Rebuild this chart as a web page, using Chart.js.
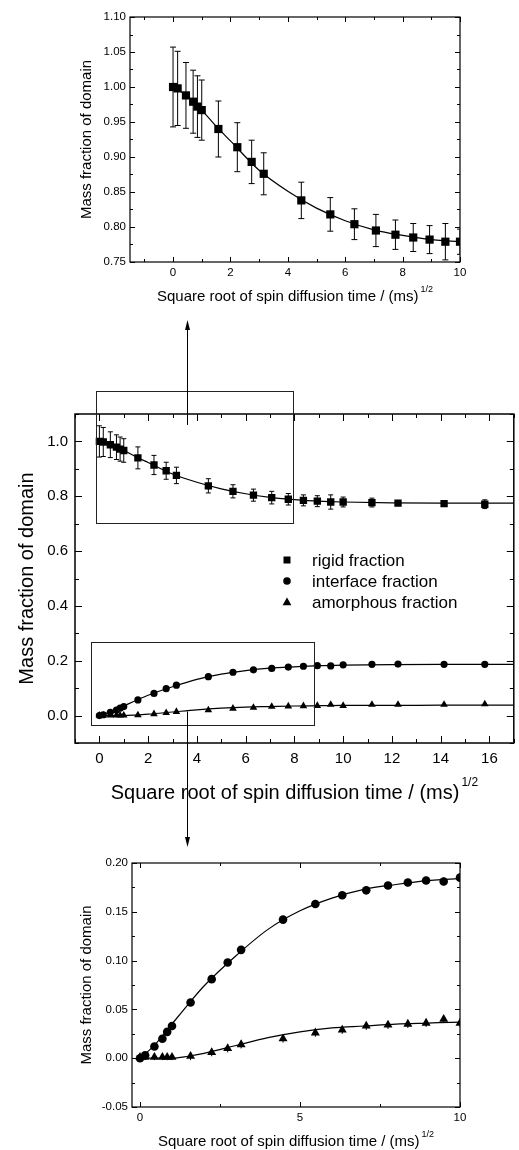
<!DOCTYPE html>
<html>
<head>
<meta charset="utf-8">
<script src="https://cdn.jsdelivr.net/npm/chart.js@4.4.1/dist/chart.umd.min.js"></script>
<style>
  html, body { margin: 0; padding: 0; background: #fff; }
  body { width: 519px; height: 1150px; position: relative; overflow: hidden; }
  canvas { position: absolute; left: 0; }
</style>
</head>
<body>
<canvas id="topChart" width="519" height="320" style="top:0px"></canvas>
<canvas id="midChart" width="519" height="550" style="top:310px"></canvas>
<canvas id="botChart" width="519" height="340" style="top:810px"></canvas>
<script>
const FONT = '"Liberation Sans", Arial, Helvetica, sans-serif';

// square root of spin diffusion time, (ms)^1/2
const sqrtTime = [0, 0.16, 0.45, 0.70, 0.85, 1.00, 1.58, 2.24, 2.74, 3.16, 4.47, 5.48, 6.32, 7.07, 7.75, 8.37, 8.94, 9.49, 10.00, 11.18, 12.25, 14.14, 15.81];

// mass fractions
const rigid         = [1.000, 0.998, 0.988, 0.979, 0.972, 0.967, 0.940, 0.914, 0.893, 0.876, 0.838, 0.818, 0.804, 0.795, 0.789, 0.785, 0.782, 0.779, 0.779, 0.777, 0.775, 0.773, 0.771];
const rigidErr      = [0.057, 0.053, 0.047, 0.045, 0.044, 0.043, 0.040, 0.035, 0.031, 0.030, 0.026, 0.024, 0.022, 0.023, 0.021, 0.020, 0.020, 0.026, 0.018, 0.016, 0.008, 0.010, 0.016];
const interfaceFrac = [0.000, 0.003, 0.012, 0.020, 0.027, 0.033, 0.057, 0.081, 0.098, 0.111, 0.142, 0.158, 0.167, 0.172, 0.177, 0.180, 0.182, 0.181, 0.185, 0.187, 0.188, 0.187, 0.187];
const interfaceErr  = [0.002, 0.002, 0.002, 0.002, 0.002, 0.002, 0.003, 0.003, 0.003, 0.003, 0.003, 0.003, 0.003, 0.003, 0.003, 0.003, 0.003, 0.004, 0.004, 0.004, 0.003, 0.003, 0.003];
const amorphous     = [0.001, 0.001, 0.001, 0.001, 0.001, 0.001, 0.002, 0.006, 0.010, 0.014, 0.020, 0.026, 0.029, 0.033, 0.034, 0.035, 0.036, 0.040, 0.036, 0.040, 0.040, 0.040, 0.042];
const amorphousErr  = [0.003, 0.003, 0.003, 0.003, 0.003, 0.003, 0.004, 0.004, 0.004, 0.004, 0.004, 0.004, 0.004, 0.004, 0.004, 0.004, 0.004, 0.004, 0.004, 0.004, 0.004, 0.004, 0.004];

// fitted curves
const fitX          = [0, 0.25, 0.5, 1, 1.5, 2, 3, 4, 5, 6, 7, 8, 9, 10, 12, 14, 17];
const rigidFit      = [1.000, 0.994, 0.987, 0.967, 0.944, 0.923, 0.881, 0.851, 0.827, 0.809, 0.796, 0.788, 0.782, 0.779, 0.776, 0.775, 0.775];
const interfaceFit  = [0.000, 0.007, 0.015, 0.035, 0.055, 0.074, 0.105, 0.132, 0.151, 0.164, 0.173, 0.178, 0.182, 0.184, 0.186, 0.187, 0.187];
const amorphousFit  = [0.000, 0.000, 0.000, 0.000, 0.002, 0.005, 0.013, 0.021, 0.027, 0.031, 0.033, 0.035, 0.036, 0.037, 0.037, 0.038, 0.038];

// tick labels
const topXTicks = [0, 2, 4, 6, 8, 10];
const topYTicks = [0.75, 0.80, 0.85, 0.90, 0.95, 1.00, 1.05, 1.10];
const midXTicks = [0, 2, 4, 6, 8, 10, 12, 14, 16];
const midYTicks = [0.0, 0.2, 0.4, 0.6, 0.8, 1.0];
const botXTicks = [0, 5, 10];
const botYTicks = [-0.05, 0.00, 0.05, 0.10, 0.15, 0.20];

const legendLabels = ['rigid fraction', 'interface fraction', 'amorphous fraction'];
const xTitle = 'Square root of spin diffusion time / (ms)';
const yTitle = 'Mass fraction of domain';

function xy(xs, ys) {
  return xs.map((x, i) => ({ x: x, y: ys[i] }));
}

function pointSet(ys, errs, style, r, cap) {
  return {
    data: xy(sqrtTime, ys),
    errors: errs,
    cap: cap,
    showLine: false,
    pointStyle: style,
    pointRadius: r,
    pointHoverRadius: r,
    pointBorderWidth: 0,
    backgroundColor: '#000',
    borderColor: '#000',
    clip: 0
  };
}

function fitSet(ys) {
  return {
    data: xy(fitX, ys),
    showLine: true,
    pointRadius: 0,
    borderColor: '#000',
    borderWidth: 1.2,
    cubicInterpolationMode: 'monotone',
    fill: false,
    clip: 0
  };
}

function axis(dir, min, max, ticks, digits, size, fontSize, pad) {
  return {
    type: 'linear',
    min: min,
    max: max,
    grid: { display: false, drawTicks: false },
    border: { display: false },
    afterBuildTicks: s => { s.ticks = ticks.map(v => ({ value: v })); },
    afterFit: s => {
      if (dir === 'x') s.height = size; else s.width = size;
      s.paddingLeft = s.paddingRight = s.paddingTop = s.paddingBottom = 0;
    },
    ticks: {
      color: '#000',
      font: { family: FONT, size: fontSize },
      padding: pad,
      maxRotation: 0,
      autoSkip: false,
      callback: v => Number(v).toFixed(digits)
    }
  };
}

function minorValues(scale, step) {
  const out = [];
  let v = Math.ceil(scale.min / step - 1e-9) * step;
  while (v <= scale.max + 1e-9) { out.push(v); v += step; }
  return out;
}

function drawMarker(ctx, style, x, y, r) {
  ctx.beginPath();
  if (style === 'rect') {
    ctx.rect(x - r, y - r, 2 * r, 2 * r);
  } else if (style === 'circle') {
    ctx.arc(x, y, r, 0, Math.PI * 2);
  } else {
    ctx.moveTo(x, y - r * 1.1);
    ctx.lineTo(x + r * 1.05, y + r * 0.75);
    ctx.lineTo(x - r * 1.05, y + r * 0.75);
    ctx.closePath();
  }
  ctx.fill();
}

// box, inward ticks on all sides, titles, error bars and the zoom marks
const frame = {
  id: 'frame',
  beforeDatasetsDraw(chart, args, o) {
    const { ctx, chartArea: a, scales: { x, y } } = chart;
    ctx.save();
    ctx.beginPath();
    ctx.rect(a.left, a.top, a.right - a.left, a.bottom - a.top);
    ctx.clip();
    ctx.strokeStyle = '#000';
    ctx.lineWidth = 1;
    chart.data.datasets.forEach(ds => {
      if (!ds.errors) return;
      ds.data.forEach((p, i) => {
        const e = ds.errors[i];
        const px = x.getPixelForValue(p.x);
        const y1 = y.getPixelForValue(p.y + e);
        const y2 = y.getPixelForValue(p.y - e);
        ctx.beginPath();
        ctx.moveTo(px, y1); ctx.lineTo(px, y2);
        if (ds.cap) {
          ctx.moveTo(px - ds.cap, y1); ctx.lineTo(px + ds.cap, y1);
          ctx.moveTo(px - ds.cap, y2); ctx.lineTo(px + ds.cap, y2);
        }
        ctx.stroke();
      });
    });
    ctx.restore();
  },
  afterDraw(chart, args, o) {
    const { ctx, chartArea: a, scales: { x, y } } = chart;
    ctx.save();
    ctx.strokeStyle = '#000';
    ctx.fillStyle = '#000';

    // ticks
    ctx.lineWidth = 1;
    ctx.beginPath();
    const tickSet = (scale, values, len, horiz) => {
      values.forEach(v => {
        const p = Math.round(scale.getPixelForValue(v)) + 0.5;
        if (horiz) {
          ctx.moveTo(p, a.bottom); ctx.lineTo(p, a.bottom - len);
          ctx.moveTo(p, a.top); ctx.lineTo(p, a.top + len);
        } else {
          ctx.moveTo(a.left, p); ctx.lineTo(a.left + len, p);
          ctx.moveTo(a.right, p); ctx.lineTo(a.right - len, p);
        }
      });
    };
    tickSet(x, x.ticks.map(t => t.value), o.major, true);
    tickSet(y, y.ticks.map(t => t.value), o.major, false);
    tickSet(x, minorValues(x, o.xMinor), o.minor, true);
    tickSet(y, minorValues(y, o.yMinor), o.minor, false);
    ctx.stroke();

    // frame
    ctx.lineWidth = o.frameWidth;
    ctx.strokeRect(a.left, a.top, a.right - a.left, a.bottom - a.top);

    // axis titles
    ctx.textBaseline = 'middle';
    ctx.font = o.titleSize + 'px ' + FONT;
    ctx.save();
    ctx.translate(a.left - o.yTitleGap, (a.top + a.bottom) / 2);
    ctx.rotate(-Math.PI / 2);
    ctx.textAlign = 'center';
    ctx.fillText(yTitle, 0, 0);
    ctx.restore();

    const supSize = Math.round(o.titleSize * 0.6);
    const w1 = ctx.measureText(xTitle).width;
    ctx.font = supSize + 'px ' + FONT;
    const w2 = ctx.measureText('1/2').width;
    const start = (a.left + a.right) / 2 - (w1 + w2 + 2) / 2;
    const ty = a.bottom + o.xTitleGap;
    ctx.textAlign = 'left';
    ctx.font = o.titleSize + 'px ' + FONT;
    ctx.fillText(xTitle, start, ty);
    ctx.font = supSize + 'px ' + FONT;
    ctx.fillText('1/2', start + w1 + 2, ty - o.titleSize * 0.5);

    // zoom rectangles and arrows (overview chart only)
    if (o.rects) {
      ctx.strokeStyle = '#222';
      ctx.lineWidth = 1;
      o.rects.forEach(r => {
        const x0 = Math.round(x.getPixelForValue(r.x0)) + 0.5;
        const x1 = Math.round(x.getPixelForValue(r.x1)) + 0.5;
        const y0 = Math.round(y.getPixelForValue(r.y0)) + 0.5;
        const y1 = Math.round(y.getPixelForValue(r.y1)) + 0.5;
        ctx.strokeRect(x0, y1, x1 - x0, y0 - y1);
      });
    }
    if (o.arrows) {
      ctx.strokeStyle = '#000';
      ctx.lineWidth = 1;
      o.arrows.forEach(ar => {
        const px = Math.round(x.getPixelForValue(ar.x)) + 0.5;
        const p0 = y.getPixelForValue(ar.y0);
        const p1 = y.getPixelForValue(ar.y1);
        const dir = p1 > p0 ? 1 : -1;
        ctx.beginPath();
        ctx.moveTo(px, p0); ctx.lineTo(px, p1 - dir * 8);
        ctx.stroke();
        ctx.beginPath();
        ctx.moveTo(px, p1);
        ctx.lineTo(px - 2.5, p1 - dir * 10);
        ctx.lineTo(px + 2.5, p1 - dir * 10);
        ctx.closePath();
        ctx.fill();
      });
    }
    if (o.legend) {
      const L = o.legend;
      ctx.fillStyle = '#000';
      ctx.font = L.size + 'px ' + FONT;
      ctx.textAlign = 'left';
      ctx.textBaseline = 'middle';
      L.styles.forEach((st, i) => {
        const ly = a.top + L.dy + i * L.step;
        drawMarker(ctx, st, a.left + L.dx, ly, L.r[i]);
        ctx.fillText(legendLabels[i], a.left + L.textDx, ly + 1);
      });
    }
    ctx.restore();
  }
};

function makeChart(id, datasets, box, xs, ys, frameOpts) {
  const cv = document.getElementById(id);
  const W = cv.width, H = cv.height;
  const pad = { left: 0, right: W - box.right, top: box.top, bottom: 0 };
  const chart = new Chart(cv, {
    type: 'scatter',
    data: { datasets: datasets },
    options: {
      responsive: false,
      animation: false,
      devicePixelRatio: 1,
      events: [],
      layout: { padding: pad },
      scales: {
        x: axis('x', xs.min, xs.max, xs.ticks, 0, H - box.bottom, xs.font, xs.pad),
        y: axis('y', ys.min, ys.max, ys.ticks, ys.digits, box.left, ys.font, ys.pad)
      },
      plugins: {
        legend: { display: false },
        tooltip: { enabled: false },
        frame: frameOpts
      }
    },
    plugins: [frame]
  });
  // nudge the layout so the plot box lands on the measured edges
  const a = chart.chartArea;
  const dRight = box.right - a.right, dTop = box.top - a.top;
  if (Math.abs(dRight) > 0.5 || Math.abs(dTop) > 0.5) {
    chart.options.layout.padding = { left: pad.left, right: pad.right - dRight, top: pad.top + dTop, bottom: 0 };
    chart.update();
  }
  return chart;
}

// top: zoom of the rigid fraction
makeChart('topChart',
  [pointSet(rigid, rigidErr, 'rect', 5.8, 3), fitSet(rigidFit)],
  { left: 130, right: 460, top: 17, bottom: 262 },
  { min: -1.5, max: 10, ticks: topXTicks, font: 11.5, pad: 4 },
  { min: 0.75, max: 1.10, ticks: topYTicks, digits: 2, font: 11.5, pad: 4 },
  { major: 5, minor: 3, xMinor: 1, yMinor: 0.025, frameWidth: 1.2,
    titleSize: 15, yTitleGap: 43, xTitleGap: 35 });

// middle: overview of all three fractions
makeChart('midChart',
  [pointSet(rigid, rigidErr, 'rect', 5.2, 2.5),
   pointSet(interfaceFrac, interfaceErr, 'circle', 3.6, 0),
   pointSet(amorphous, amorphousErr, 'triangle', 4.4, 0),
   fitSet(rigidFit), fitSet(interfaceFit), fitSet(amorphousFit)],
  { left: 75, right: 518, top: 104, bottom: 433 },
  { min: -1, max: 17, ticks: midXTicks, font: 15, pad: 7 },
  { min: -0.1, max: 1.1, ticks: midYTicks, digits: 1, font: 15, pad: 7 },
  { major: 7, minor: 4, xMinor: 1, yMinor: 0.1, frameWidth: 1.5,
    titleSize: 20, yTitleGap: 48, xTitleGap: 50,
    rects: [{ x0: -0.15, x1: 7.95, y0: 0.703, y1: 1.184 },
            { x0: -0.35, x1: 8.79, y0: -0.034, y1: 0.269 }],
    arrows: [{ x: 3.6, y0: 1.06, y1: 1.443 },
             { x: 3.6, y0: 0.015, y1: -0.479 }],
    legend: { dx: 212, dy: 146, step: 21, textDx: 237, size: 17,
              styles: ['rect', 'circle', 'triangle'], r: [3.5, 3.8, 4.2] } });

// bottom: zoom of the interface and amorphous fractions
makeChart('botChart',
  [pointSet(interfaceFrac, interfaceErr, 'circle', 4.3, 0),
   pointSet(amorphous, amorphousErr, 'triangle', 5.2, 0),
   fitSet(interfaceFit), fitSet(amorphousFit)],
  { left: 132, right: 460, top: 53, bottom: 297 },
  { min: -0.25, max: 10, ticks: botXTicks, font: 11.5, pad: 4 },
  { min: -0.05, max: 0.20, ticks: botYTicks, digits: 2, font: 11.5, pad: 4 },
  { major: 5, minor: 3, xMinor: 2.5, yMinor: 0.025, frameWidth: 1.2,
    titleSize: 15, yTitleGap: 45, xTitleGap: 35 });
</script>
</body>
</html>
